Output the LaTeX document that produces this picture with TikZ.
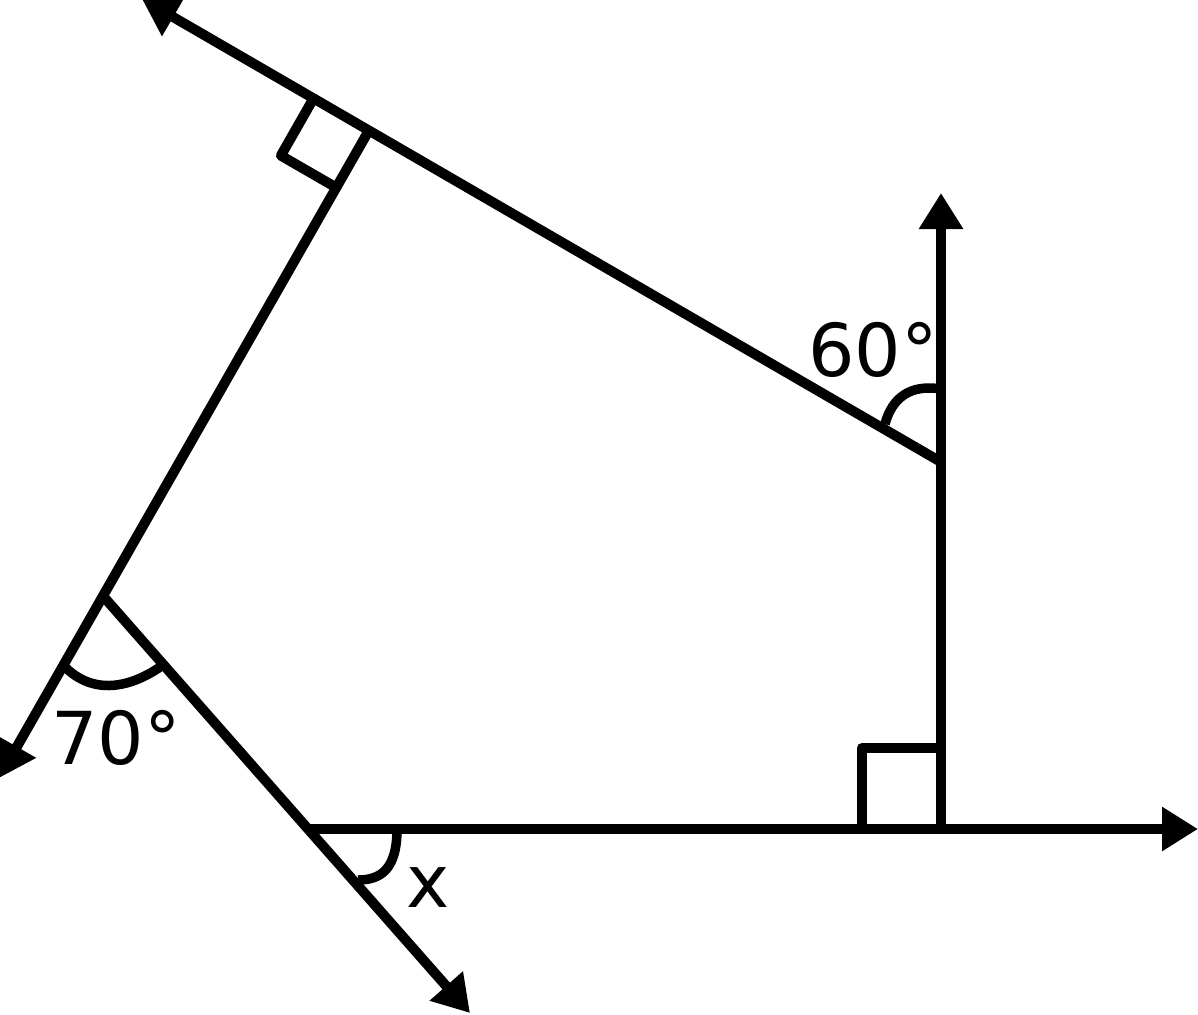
\documentclass[tikz,border=0pt]{standalone}
\usepackage{fontspec}
\setmainfont{DejaVu Sans}
\usetikzlibrary{arrows.meta}
\begin{document}
\begin{tikzpicture}[x=1pt,y=-1pt,
  ray/.style={line width=10pt,-{Triangle[length=36pt,width=42pt]}},
  seg/.style={line width=10pt,line join=round},
  arcmark/.style={line width=9.5pt},
  lbl/.style={font=\fontsize{73}{80}\selectfont,inner sep=0pt}]
\useasboundingbox (0,0) rectangle (1198,1014);
% key points
\coordinate (A) at (941,462);
\coordinate (T) at (142,-1);
\coordinate (B) at (368,132);
\coordinate (C) at (103,596);
\coordinate (L) at (-1,778);
\coordinate (D) at (308,829);
\coordinate (E) at (470,1013);
\coordinate (F) at (941,829);
\coordinate (R) at (1198,829);
\coordinate (U) at (941,193);
% rays
\draw[ray] (A) -- (T);
\draw[ray] (B) -- (L);
\draw[ray] (C) -- (E);
\draw[ray] (D) -- (R);
\draw[ray] (F) -- (U);
% right-angle marks
\coordinate (P1) at (312.6,100);
\coordinate (P2) at (280.9,155.6);
\coordinate (P3) at (336.3,187.6);
\draw[seg] (P1) -- (P2) -- (P3);
\coordinate (Q1) at (941,748);
\coordinate (Q2) at (862,748);
\coordinate (Q3) at (862,829);
\draw[seg] (Q1) -- (Q2) -- (Q3);
% angle arcs
\coordinate (S1) at (885,424);
\coordinate (S2) at (941,389);
\draw[arcmark] (S1) .. controls (892,398) and (910,384) .. (S2);
\coordinate (V1) at (65,667);
\coordinate (V2) at (163,665);
\draw[arcmark] (V1) .. controls (90,692) and (125,692) .. (V2);
\coordinate (W1) at (397,829);
\coordinate (W2) at (358,880);
\draw[arcmark] (W1) .. controls (397,870) and (380,880) .. (W2);
% labels
\node[lbl] (l60) at (873,350) {60°};
\node[lbl] (l70) at (116,738) {70°};
\node[lbl] (lx) at (428,888) {x};
\end{tikzpicture}
\end{document}
